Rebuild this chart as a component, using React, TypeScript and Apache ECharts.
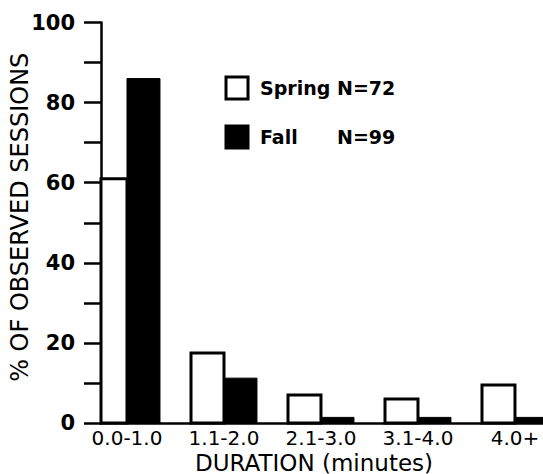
import React, { useEffect, useRef } from 'react';
import * as echarts from 'echarts';

const categories = ['0.0-1.0', '1.1-2.0', '2.1-3.0', '3.1-4.0', '4.0+'];
const categoryPositions = [0, 1, 2, 3, 4];
const springValues = [61, 17.5, 7, 6, 9.5];
const fallValues = [86, 11.2, 1.4, 1.4, 1.4];
const seriesNames = ['Spring', 'Fall'];
const sampleSizes = [72, 99];
const yTicks = [0, 20, 40, 60, 80, 100];

const FONT = 'DejaVu Sans';
const BAR_FRACTION = 0.34; // bar width as a fraction of one category step

const springStyle = { fill: '#fff', stroke: '#000', lineWidth: 3 };
const fallStyle = { fill: '#000', stroke: '#000', lineWidth: 1 };

function makeRenderItem(side: number, style: any) {
  return (params: any, api: any) => {
    const x = api.value(0);
    const y = api.value(1);
    const top = api.coord([x, y]);
    const base = api.coord([x, 0]);
    const w = api.size([1, 0])[0] * BAR_FRACTION;
    const cs = params.coordSys;
    const rect = echarts.graphic.clipRectByRect(
      { x: top[0] + side * w, y: top[1], width: w, height: base[1] - top[1] },
      { x: cs.x, y: cs.y, width: cs.width, height: cs.height }
    );
    if (!rect) return null;
    return { type: 'rect', shape: rect, style };
  };
}

export default function App() {
  const ref = useRef<HTMLDivElement>(null);
  useEffect(() => {
    const chart = echarts.init(ref.current!, null, { renderer: 'svg' });
    const nByName: Record<string, number> = {};
    seriesNames.forEach((n, i) => (nByName[n] = sampleSizes[i]));
    chart.setOption({
      animation: false,
      backgroundColor: '#fff',
      grid: { left: 101, right: 0, top: 22.5, bottom: 51, outerBoundsMode: 'none', containLabel: false },
      legend: {
        orient: 'vertical',
        left: 219.5,
        top: 70.5,
        itemWidth: 22,
        itemHeight: 22,
        itemGap: 24,
        icon: 'rect',
        data: [
          { name: seriesNames[0], itemStyle: { color: '#fff', borderColor: '#000', borderWidth: 3 } },
          { name: seriesNames[1], itemStyle: { color: '#000', borderColor: '#000', borderWidth: 3 } },
        ],
        formatter: (name: string) => `{s|}{a|${name}}{b|N=${nByName[name]}}`,
        textStyle: {
          rich: {
            s: { width: 7 },
            a: { width: 77, fontSize: 19, fontWeight: 'bold', fontFamily: FONT, color: '#000' },
            b: { fontSize: 19, fontWeight: 'bold', fontFamily: FONT, color: '#000' },
          },
        },
      },
      xAxis: {
        type: 'value',
        min: -0.268,
        max: 4.289,
        splitLine: { show: false },
        axisLine: { show: true, onZero: false, lineStyle: { color: '#000', width: 2.5 } },
        axisTick: { show: false },
        axisLabel: {
          customValues: categoryPositions,
          formatter: (v: number) => categories[Math.round(v)] ?? '',
          fontSize: 20,
          fontFamily: FONT,
          color: '#000',
          margin: 5,
        },
        name: 'DURATION (minutes)',
        nameLocation: 'middle',
        nameGap: 28,
        nameMoveOverlap: false,
        nameTextStyle: { fontSize: 23, fontFamily: FONT, color: '#000', padding: [0, 16, 0, 0] },
      },
      yAxis: {
        type: 'value',
        min: 0,
        max: 100,
        interval: 10,
        splitLine: { show: false },
        axisLine: { show: true, onZero: false, lineStyle: { color: '#000', width: 2.5 } },
        axisTick: { show: true, inside: false, length: 17, lineStyle: { color: '#000', width: 2.5 } },
        axisLabel: {
          formatter: (v: number) => (yTicks.includes(v) ? String(v) : ''),
          fontSize: 21,
          fontWeight: 'bold',
          fontFamily: FONT,
          color: '#000',
          margin: 26,
        },
        name: '% OF OBSERVED SESSIONS',
        nameLocation: 'middle',
        nameGap: 69,
        nameMoveOverlap: false,
        nameTextStyle: { fontSize: 24, fontFamily: FONT, color: '#000', padding: [0, 0, 0, 11] },
      },
      series: [
        {
          name: seriesNames[0],
          type: 'custom',
          renderItem: makeRenderItem(-1, springStyle),
          encode: { x: 0, y: 1 },
          itemStyle: { color: '#fff', borderColor: '#000', borderWidth: 3 },
          data: categoryPositions.map((x, i) => [x, springValues[i]]),
          z: 1,
        },
        {
          name: seriesNames[1],
          type: 'custom',
          renderItem: makeRenderItem(0, fallStyle),
          encode: { x: 0, y: 1 },
          itemStyle: { color: '#000', borderColor: '#000', borderWidth: 1 },
          data: categoryPositions.map((x, i) => [x, fallValues[i]]),
          z: 2,
        },
      ],
    });
    return () => chart.dispose();
  }, []);
  return (
    <div
      ref={ref}
      style={{ position: 'absolute', left: 0, top: 0, width: 543, height: 474, background: '#fff' }}
    />
  );
}
